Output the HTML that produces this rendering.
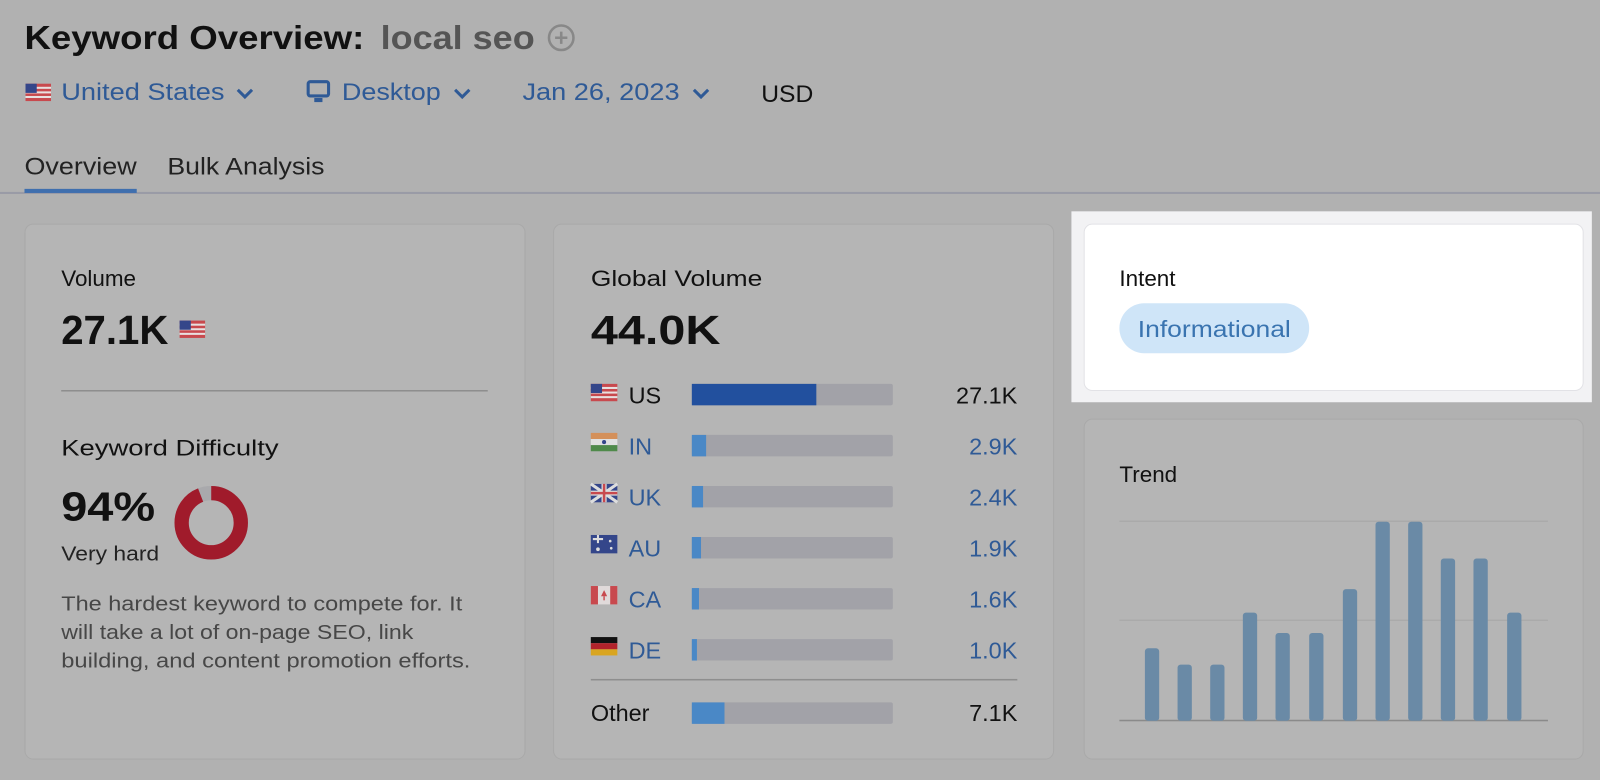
<!DOCTYPE html>
<html><head><meta charset="utf-8"><style>
html,body{margin:0;padding:0;background:#b1b1b1;}
svg{display:block;font-family:"Liberation Sans",Arial,sans-serif;}
</style></head><body>
<svg width="1600" height="780" viewBox="0 0 1568 764" preserveAspectRatio="none" xmlns="http://www.w3.org/2000/svg">
<rect width="1568" height="764" fill="#b1b1b1"/>
<text x="24" y="48" font-size="33" font-weight="bold" fill="#111" textLength="333" lengthAdjust="spacingAndGlyphs">Keyword Overview:</text>
<text x="373" y="48" font-size="33" font-weight="bold" fill="#555" textLength="151" lengthAdjust="spacingAndGlyphs">local seo</text>
<circle cx="550" cy="37" r="12" fill="none" stroke="#888" stroke-width="2.5"/>
<path d="M550 31v12M544 37h12" stroke="#888" stroke-width="2.5"/>
<g transform="translate(25,82)">
<rect width="25" height="17" fill="#c8494e"/>
<rect y="3" width="25" height="2" fill="#e8e0e0"/><rect y="7.5" width="25" height="2" fill="#e8e0e0"/><rect y="12" width="25" height="2" fill="#e8e0e0"/>
<rect width="11" height="9" fill="#34468a"/></g>
<text x="60" y="98" font-size="24" fill="#2f5a96" textLength="160" lengthAdjust="spacingAndGlyphs">United States</text>
<path d="M233 88l7 7 7-7" fill="none" stroke="#2f5a96" stroke-width="3"/>
<rect x="302" y="80" width="20" height="14" rx="2" fill="none" stroke="#2f5a96" stroke-width="3"/>
<rect x="308" y="96" width="8" height="4" fill="#2f5a96"/>
<text x="335" y="98" font-size="24" fill="#2f5a96" textLength="97" lengthAdjust="spacingAndGlyphs">Desktop</text>
<path d="M446 88l7 7 7-7" fill="none" stroke="#2f5a96" stroke-width="3"/>
<text x="512" y="98" font-size="24" fill="#2f5a96" textLength="154" lengthAdjust="spacingAndGlyphs">Jan 26, 2023</text>
<path d="M680 88l7 7 7-7" fill="none" stroke="#2f5a96" stroke-width="3"/>
<text x="746" y="100" font-size="24" fill="#111" textLength="51" lengthAdjust="spacingAndGlyphs">USD</text>
<text x="24" y="171" font-size="24" fill="#222" textLength="110" lengthAdjust="spacingAndGlyphs">Overview</text>
<text x="164" y="171" font-size="24" fill="#222" textLength="154" lengthAdjust="spacingAndGlyphs">Bulk Analysis</text>
<rect x="0" y="188" width="1568" height="2" fill="#999ba6"/>
<rect x="24" y="185" width="110" height="4" fill="#3f6fae"/>
<rect x="24.5" y="219.5" width="490" height="524" rx="8" fill="#b5b5b5" stroke="#a9a9a9"/>
<text x="60" y="280" font-size="22" fill="#111">Volume</text>
<text x="60" y="337" font-size="40" font-weight="bold" fill="#111" textLength="105" lengthAdjust="spacingAndGlyphs">27.1K</text>
<g transform="translate(176,314)">
<rect width="25" height="17" fill="#c8494e"/>
<rect y="3" width="25" height="2" fill="#e8e0e0"/><rect y="7.5" width="25" height="2" fill="#e8e0e0"/><rect y="12" width="25" height="2" fill="#e8e0e0"/>
<rect width="11" height="9" fill="#34468a"/></g>
<rect x="60" y="382" width="418" height="1.5" fill="#8e8e8e"/>
<text x="60" y="446" font-size="22" fill="#111" textLength="213" lengthAdjust="spacingAndGlyphs">Keyword Difficulty</text>
<text x="60" y="510" font-size="40" font-weight="bold" fill="#111" textLength="92" lengthAdjust="spacingAndGlyphs">94%</text>
<text x="60" y="549" font-size="20" fill="#222" textLength="96" lengthAdjust="spacingAndGlyphs">Very hard</text>
<circle cx="207" cy="512" r="29" fill="none" stroke="#a9a9ac" stroke-width="14"/>
<circle cx="207" cy="512" r="29" fill="none" stroke="#a01b2b" stroke-width="14" stroke-dasharray="171.3 200" transform="rotate(-90 207 512)"/>
<text font-size="20" fill="#474747"><tspan x="60" y="598" textLength="393" lengthAdjust="spacingAndGlyphs">The hardest keyword to compete for. It</tspan><tspan x="60" y="626" textLength="345" lengthAdjust="spacingAndGlyphs">will take a lot of on-page SEO, link</tspan><tspan x="60" y="654" textLength="401" lengthAdjust="spacingAndGlyphs">building, and content promotion efforts.</tspan></text>
<rect x="542.5" y="219.5" width="490" height="524" rx="8" fill="#b5b5b5" stroke="#a9a9a9"/>
<text x="579" y="280" font-size="22" fill="#111" textLength="168" lengthAdjust="spacingAndGlyphs">Global Volume</text>
<text x="579" y="337" font-size="40" font-weight="bold" fill="#111" textLength="127" lengthAdjust="spacingAndGlyphs">44.0K</text>
<g font-size="23">
<g transform="translate(579,376)"><rect width="26" height="17" fill="#c8494e"/><rect y="3" width="26" height="2" fill="#e8e0e0"/><rect y="7.5" width="26" height="2" fill="#e8e0e0"/><rect y="12" width="26" height="2" fill="#e8e0e0"/><rect width="11" height="9" fill="#34468a"/></g>
<text x="616" y="395" fill="#111">US</text>
<rect x="678" y="376" width="197" height="21" rx="2" fill="#a2a2a8"/><rect x="678" y="376" width="122" height="21" fill="#22509e"/>
<text x="997" y="395" text-anchor="end" fill="#111">27.1K</text>
<g transform="translate(579,424)"><rect width="26" height="6" fill="#d4905a"/><rect y="6" width="26" height="6" fill="#e0e0e0"/><rect y="12" width="26" height="6" fill="#4f8a4a"/><circle cx="13" cy="9" r="2" fill="#34468a"/></g>
<text x="616" y="445" fill="#2f5a96">IN</text>
<rect x="678" y="426" width="197" height="21" rx="2" fill="#a2a2a8"/><rect x="678" y="426" width="14" height="21" fill="#4a88c6"/>
<text x="997" y="445" text-anchor="end" fill="#2f5a96">2.9K</text>
<g transform="translate(579,474)"><rect width="26" height="18" fill="#34468a"/><path d="M0 0L26 18M26 0L0 18" stroke="#ddd" stroke-width="3"/><path d="M13 0v18M0 9h26" stroke="#ddd" stroke-width="5"/><path d="M13 0v18M0 9h26" stroke="#c8494e" stroke-width="2.5"/></g>
<text x="616" y="495" fill="#2f5a96">UK</text>
<rect x="678" y="476" width="197" height="21" rx="2" fill="#a2a2a8"/><rect x="678" y="476" width="11" height="21" fill="#4a88c6"/>
<text x="997" y="495" text-anchor="end" fill="#2f5a96">2.4K</text>
<g transform="translate(579,524)"><rect width="26" height="18" fill="#34468a"/><path d="M2 4h10M7 0v8" stroke="#ddd" stroke-width="2"/><circle cx="19" cy="6" r="1.3" fill="#ddd"/><circle cx="20" cy="13" r="1.3" fill="#ddd"/><circle cx="7" cy="14" r="1.8" fill="#ddd"/></g>
<text x="616" y="545" fill="#2f5a96">AU</text>
<rect x="678" y="526" width="197" height="21" rx="2" fill="#a2a2a8"/><rect x="678" y="526" width="9" height="21" fill="#4a88c6"/>
<text x="997" y="545" text-anchor="end" fill="#2f5a96">1.9K</text>
<g transform="translate(579,574)"><rect width="26" height="18" fill="#e0dada"/><rect width="7" height="18" fill="#c8494e"/><rect x="19" width="7" height="18" fill="#c8494e"/><path d="M13 4l3 6h-6z" fill="#c8494e"/><rect x="12.3" y="10" width="1.4" height="4" fill="#c8494e"/></g>
<text x="616" y="595" fill="#2f5a96">CA</text>
<rect x="678" y="576" width="197" height="21" rx="2" fill="#a2a2a8"/><rect x="678" y="576" width="7" height="21" fill="#4a88c6"/>
<text x="997" y="595" text-anchor="end" fill="#2f5a96">1.6K</text>
<g transform="translate(579,624)"><rect width="26" height="6" fill="#111"/><rect y="6" width="26" height="6" fill="#b2232b"/><rect y="12" width="26" height="6" fill="#d9a520"/></g>
<text x="616" y="645" fill="#2f5a96">DE</text>
<rect x="678" y="626" width="197" height="21" rx="2" fill="#a2a2a8"/><rect x="678" y="626" width="5" height="21" fill="#4a88c6"/>
<text x="997" y="645" text-anchor="end" fill="#2f5a96">1.0K</text>
<rect x="579" y="665" width="418" height="1.5" fill="#8e8e8e"/>
<text x="579" y="706" fill="#111">Other</text>
<rect x="678" y="688" width="197" height="21" rx="2" fill="#a2a2a8"/><rect x="678" y="688" width="32" height="21" fill="#4a88c6"/>
<text x="997" y="706" text-anchor="end" fill="#111">7.1K</text>
</g>
<rect x="1050" y="207" width="510" height="187" fill="#f2f2f4"/>
<rect x="1062.5" y="219.5" width="489" height="163" rx="8" fill="#ffffff" stroke="#e2e2e6"/>
<text x="1097" y="280" font-size="22" fill="#111">Intent</text>
<rect x="1097" y="297" width="186" height="49" rx="24.5" fill="#cfe5f8"/>
<text x="1190" y="330" font-size="23" fill="#3a74b0" text-anchor="middle" textLength="150" lengthAdjust="spacingAndGlyphs">Informational</text>
<rect x="1062.5" y="410.5" width="489" height="333" rx="8" fill="#b5b5b5" stroke="#a9a9a9"/>
<text x="1097" y="472" font-size="22" fill="#111">Trend</text>
<rect x="1097" y="510" width="420" height="1" fill="#a6a6a6"/>
<rect x="1097" y="607" width="420" height="1" fill="#a6a6a6"/>
<rect x="1097" y="705" width="420" height="1.5" fill="#8a8a8a"/>
<g fill="#6a8aa6">
<rect x="1122" y="635" width="14" height="71" rx="3"/>
<rect x="1154" y="651" width="14" height="55" rx="3"/>
<rect x="1186" y="651" width="14" height="55" rx="3"/>
<rect x="1218" y="600" width="14" height="106" rx="3"/>
<rect x="1250" y="620" width="14" height="86" rx="3"/>
<rect x="1283" y="620" width="14" height="86" rx="3"/>
<rect x="1316" y="577" width="14" height="129" rx="3"/>
<rect x="1348" y="511" width="14" height="195" rx="3"/>
<rect x="1380" y="511" width="14" height="195" rx="3"/>
<rect x="1412" y="547" width="14" height="159" rx="3"/>
<rect x="1444" y="547" width="14" height="159" rx="3"/>
<rect x="1477" y="600" width="14" height="106" rx="3"/>
</g>
</svg>
</body></html>
